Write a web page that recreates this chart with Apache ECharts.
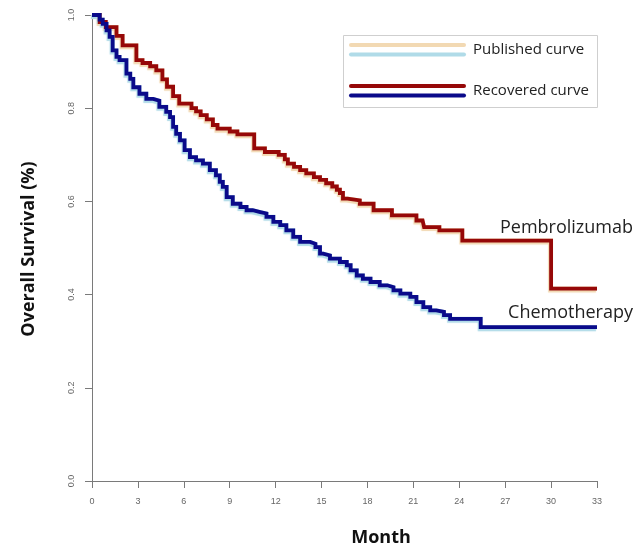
<!DOCTYPE html>
<html>
<head>
<meta charset="utf-8">
<script src="https://cdn.jsdelivr.net/npm/echarts@6/dist/echarts.min.js"></script>
<style>
  html, body { margin: 0; padding: 0; background: #fff; }
  #chart { width: 638px; height: 554px; }
</style>
</head>
<body>
<div id="chart"></div>
<script>
// Kaplan–Meier overall survival, pembrolizumab vs chemotherapy
var monthTicks = [0, 3, 6, 9, 12, 15, 18, 21, 24, 27, 30, 33];
var survivalTicks = [0.0, 0.2, 0.4, 0.6, 0.8, 1.0];

var pembroMonths = [0, 0.5, 0.9, 1.6, 2.0, 2.9, 3.3, 3.8, 4.2, 4.6, 4.9, 5.3, 5.7, 6.5, 6.8, 7.1, 7.5, 7.9, 8.2, 9.0, 9.5, 10.6, 11.3, 12.2, 12.6, 12.8, 13.2, 13.6, 14.0, 14.5, 14.9, 15.3, 15.7, 16.0, 16.2, 16.4, 16.7, 17.5, 18.4, 19.6, 21.2, 21.6, 21.7, 22.7, 24.2, 30.0, 33.0];
var pembroSurvival = [1.0, 0.985, 0.974, 0.955, 0.935, 0.903, 0.897, 0.890, 0.881, 0.862, 0.846, 0.826, 0.810, 0.800, 0.793, 0.785, 0.776, 0.764, 0.756, 0.750, 0.744, 0.714, 0.706, 0.700, 0.690, 0.681, 0.674, 0.667, 0.660, 0.652, 0.646, 0.639, 0.632, 0.625, 0.618, 0.606, 0.602, 0.595, 0.581, 0.570, 0.559, 0.555, 0.545, 0.538, 0.516, 0.413, 0.413];

var chemoMonths = [0, 0.5, 0.7, 0.95, 1.15, 1.35, 1.6, 1.8, 2.25, 2.5, 2.7, 3.1, 3.55, 4.0, 4.4, 4.85, 5.1, 5.3, 5.5, 5.75, 6.05, 6.4, 6.8, 7.25, 7.7, 8.1, 8.35, 8.55, 8.8, 9.2, 9.7, 10.1, 10.5, 11.0, 11.4, 11.85, 12.3, 12.7, 13.15, 13.6, 14.25, 14.6, 14.9, 15.1, 15.55, 16.2, 16.65, 16.9, 17.3, 17.7, 18.2, 18.8, 19.3, 19.7, 20.15, 20.8, 21.2, 21.65, 22.1, 22.5, 23.0, 23.4, 25.4, 33.0];
var chemoSurvival = [1.0, 0.99, 0.981, 0.967, 0.953, 0.924, 0.910, 0.903, 0.874, 0.863, 0.845, 0.831, 0.820, 0.816, 0.803, 0.792, 0.781, 0.760, 0.745, 0.731, 0.710, 0.695, 0.688, 0.681, 0.667, 0.656, 0.642, 0.631, 0.609, 0.595, 0.588, 0.581, 0.577, 0.574, 0.567, 0.556, 0.549, 0.538, 0.524, 0.513, 0.509, 0.502, 0.488, 0.484, 0.477, 0.470, 0.463, 0.452, 0.441, 0.434, 0.427, 0.420, 0.416, 0.409, 0.402, 0.395, 0.384, 0.373, 0.366, 0.363, 0.356, 0.348, 0.330, 0.330];

var armNames = ['Pembrolizumab', 'Chemotherapy'];
var legendNames = ['Published curve', 'Recovered curve'];

function pairs(xs, ys) {
  return xs.map(function (x, i) { return [x, ys[i]]; });
}

var colors = {
  pembroPublished: '#f2d9b3',
  chemoPublished: '#b0dbe8',
  pembroRecovered: '#960808',
  chemoRecovered: '#0a0a8a'
};

function kmSeries(name, data, color, width, z, halo) {
  var ls = { color: color, width: width, join: 'miter', cap: 'butt' };
  if (halo) {
    ls.shadowColor = color;
    ls.shadowBlur = 1;
    ls.shadowOffsetX = -1;
    ls.shadowOffsetY = 2;
  }
  return {
    name: name,
    type: 'line',
    step: 'end',
    data: data,
    showSymbol: false,
    symbol: 'none',
    lineStyle: ls,
    z: z,
    animation: false,
    silent: true
  };
}

var chart = echarts.init(document.getElementById('chart'), null, { renderer: 'canvas' });

var axisGray = '#7a7a7a';
var tickFont = { fontFamily: 'Liberation Sans, Arial, sans-serif', fontSize: 9, color: '#666' };
var textFont = 'Open Sans, Noto Sans, sans-serif';

var option = {
  backgroundColor: '#ffffff',
  animation: false,
  grid: { left: 92, right: 41, top: 15, bottom: 73, containLabel: false },
  xAxis: {
    type: 'value',
    min: monthTicks[0],
    max: monthTicks[monthTicks.length - 1],
    interval: 3,
    axisLine: { show: true, lineStyle: { color: axisGray, width: 1 } },
    axisTick: { show: true, length: 7, inside: false, lineStyle: { color: axisGray } },
    axisLabel: Object.assign({ margin: 16 }, tickFont),
    splitLine: { show: false }
  },
  yAxis: {
    type: 'value',
    min: survivalTicks[0],
    max: survivalTicks[survivalTicks.length - 1],
    interval: 0.2,
    axisLine: { show: true, lineStyle: { color: axisGray, width: 1 } },
    axisTick: { show: true, length: 7, inside: false, lineStyle: { color: axisGray } },
    axisLabel: Object.assign({
      margin: 16,
      rotate: 90,
      formatter: function (v) { return v.toFixed(1); }
    }, tickFont),
    splitLine: { show: false }
  },
  series: [
    kmSeries('Pembrolizumab published', pairs(pembroMonths, pembroSurvival), colors.pembroPublished, 4, 1, true),
    kmSeries('Chemotherapy published', pairs(chemoMonths, chemoSurvival), colors.chemoPublished, 4, 1, true),
    kmSeries('Pembrolizumab recovered', pairs(pembroMonths, pembroSurvival), colors.pembroRecovered, 3.8, 3, false),
    kmSeries('Chemotherapy recovered', pairs(chemoMonths, chemoSurvival), colors.chemoRecovered, 3.8, 3, false)
  ],
  graphic: [
    // axis titles
    {
      type: 'text', x: 29, y: 249, rotation: Math.PI / 2,
      style: { text: 'Overall Survival (%)', fontFamily: textFont, fontWeight: 'bold', fontSize: 18,
               fill: '#111', align: 'center', verticalAlign: 'middle' }
    },
    {
      type: 'text', x: 381, y: 538,
      style: { text: 'Month', fontFamily: textFont, fontWeight: 'bold', fontSize: 18,
               fill: '#111', align: 'center', verticalAlign: 'middle' }
    },
    // arm labels
    {
      type: 'text', x: 633, y: 228,
      style: { text: armNames[0], fontFamily: textFont, fontSize: 18, fill: '#222',
               align: 'right', verticalAlign: 'middle' }
    },
    {
      type: 'text', x: 633, y: 313,
      style: { text: armNames[1], fontFamily: textFont, fontSize: 18, fill: '#222',
               align: 'right', verticalAlign: 'middle' }
    },
    // legend box
    {
      type: 'rect', shape: { x: 343.5, y: 35.5, width: 254, height: 72 },
      style: { fill: '#fff', stroke: '#cfcfcf', lineWidth: 1 }, z: 10
    },
    { type: 'line', shape: { x1: 351, y1: 45, x2: 464, y2: 45 }, style: { stroke: colors.pembroPublished, lineWidth: 4, lineCap: 'round' }, z: 11 },
    { type: 'line', shape: { x1: 351, y1: 54.5, x2: 464, y2: 54.5 }, style: { stroke: colors.chemoPublished, lineWidth: 4, lineCap: 'round' }, z: 11 },
    { type: 'line', shape: { x1: 351, y1: 86, x2: 464, y2: 86 }, style: { stroke: colors.pembroRecovered, lineWidth: 4, lineCap: 'round' }, z: 11 },
    { type: 'line', shape: { x1: 351, y1: 95.5, x2: 464, y2: 95.5 }, style: { stroke: colors.chemoRecovered, lineWidth: 4, lineCap: 'round' }, z: 11 },
    {
      type: 'text', x: 473, y: 50, z: 11,
      style: { text: legendNames[0], fontFamily: textFont, fontSize: 15, fill: '#222', align: 'left', verticalAlign: 'middle' }
    },
    {
      type: 'text', x: 473, y: 91, z: 11,
      style: { text: legendNames[1], fontFamily: textFont, fontSize: 15, fill: '#222', align: 'left', verticalAlign: 'middle' }
    }
  ]
};

chart.setOption(option);
</script>
</body>
</html>
